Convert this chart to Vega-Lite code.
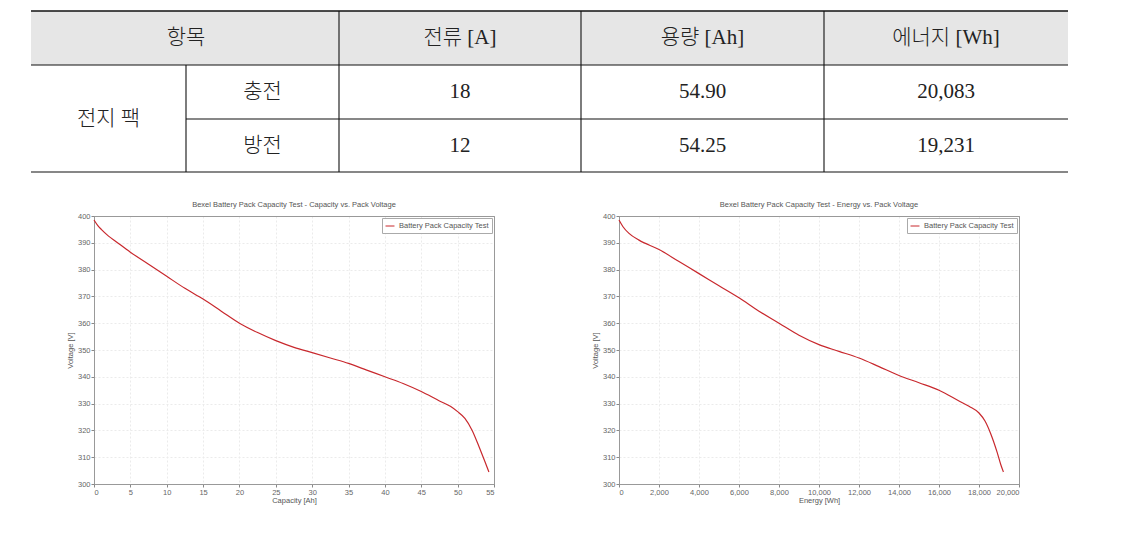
{
  "$schema": "https://vega.github.io/schema/vega-lite/v6.json",
  "padding": {"left": 30, "top": 10, "right": 0, "bottom": 0},
  "background": "white",
  "bounds": "flush",
  "spacing": 44,
  "config": {
    "font": "Liberation Sans",
    "axis": {
      "labelFont": "Liberation Sans",
      "labelFontSize": 7.5,
      "labelColor": "#666",
      "titleFont": "Liberation Sans",
      "titleFontSize": 7.5,
      "titleFontWeight": "normal",
      "titleColor": "#555",
      "tickColor": "#888",
      "tickSize": 3,
      "domainColor": "#999",
      "gridColor": {"condition": {"test": "datum.index === 0 || datum.index === 1", "value": "#999"}, "value": "#ebebeb"},
      "gridDash": {"condition": {"test": "datum.index === 0 || datum.index === 1", "value": []}, "value": [2, 2]},
      "labelPadding": 1
    },
    "title": {"font": "Liberation Sans", "fontSize": 7.5, "fontWeight": "normal", "color": "#555", "offset": 4},
    "legend": {"labelFont": "Liberation Sans", "labelFontSize": 7.5, "labelColor": "#555"}
  },
  "datasets": {
    "cells": [
      {"col": 1, "row": 0.5, "label": "항목"},
      {"col": 2.5, "row": 0.5, "label": "전류 [A]"},
      {"col": 3.5, "row": 0.5, "label": "용량 [Ah]"},
      {"col": 4.5, "row": 0.5, "label": "에너지 [Wh]"},
      {"col": 0.5, "row": 2, "label": "전지  팩"},
      {"col": 1.5, "row": 1.5, "label": "충전"},
      {"col": 1.5, "row": 2.5, "label": "방전"},
      {"col": 2.5, "row": 1.5, "label": "18"},
      {"col": 2.5, "row": 2.5, "label": "12"},
      {"col": 3.5, "row": 1.5, "label": "54.90"},
      {"col": 3.5, "row": 2.5, "label": "54.25"},
      {"col": 4.5, "row": 1.5, "label": "20,083"},
      {"col": 4.5, "row": 2.5, "label": "19,231"}
    ],
    "lines": [
      {"c1": 0, "c2": 5, "r1": 0, "r2": 0, "w": "thick"},
      {"c1": 0, "c2": 5, "r1": 1, "r2": 1, "w": "thin"},
      {"c1": 1, "c2": 5, "r1": 2, "r2": 2, "w": "thin"},
      {"c1": 0, "c2": 5, "r1": 3, "r2": 3, "w": "thin"},
      {"c1": 1, "c2": 1, "r1": 1, "r2": 3, "w": "thin"},
      {"c1": 2, "c2": 2, "r1": 0, "r2": 3, "w": "thin"},
      {"c1": 3, "c2": 3, "r1": 0, "r2": 3, "w": "thin"},
      {"c1": 4, "c2": 4, "r1": 0, "r2": 3, "w": "thin"}
    ],
    "header": [{"c1": 0, "c2": 5, "r1": 0, "r2": 1}],
    "capacity": [
      {"ah": 0, "v": 398.5, "s": "Battery Pack Capacity Test"},
      {"ah": 0.5, "v": 396.5, "s": "Battery Pack Capacity Test"},
      {"ah": 1, "v": 395, "s": "Battery Pack Capacity Test"},
      {"ah": 2, "v": 392.5, "s": "Battery Pack Capacity Test"},
      {"ah": 3, "v": 390.5, "s": "Battery Pack Capacity Test"},
      {"ah": 5, "v": 386.5, "s": "Battery Pack Capacity Test"},
      {"ah": 7.5, "v": 382, "s": "Battery Pack Capacity Test"},
      {"ah": 10, "v": 377.5, "s": "Battery Pack Capacity Test"},
      {"ah": 12.5, "v": 373, "s": "Battery Pack Capacity Test"},
      {"ah": 15, "v": 369, "s": "Battery Pack Capacity Test"},
      {"ah": 17.5, "v": 364.5, "s": "Battery Pack Capacity Test"},
      {"ah": 20, "v": 360, "s": "Battery Pack Capacity Test"},
      {"ah": 22.5, "v": 356.5, "s": "Battery Pack Capacity Test"},
      {"ah": 25, "v": 353.5, "s": "Battery Pack Capacity Test"},
      {"ah": 27.5, "v": 351, "s": "Battery Pack Capacity Test"},
      {"ah": 30, "v": 349, "s": "Battery Pack Capacity Test"},
      {"ah": 32.5, "v": 347, "s": "Battery Pack Capacity Test"},
      {"ah": 35, "v": 345, "s": "Battery Pack Capacity Test"},
      {"ah": 37.5, "v": 342.5, "s": "Battery Pack Capacity Test"},
      {"ah": 40, "v": 340, "s": "Battery Pack Capacity Test"},
      {"ah": 42.5, "v": 337.5, "s": "Battery Pack Capacity Test"},
      {"ah": 45, "v": 334.5, "s": "Battery Pack Capacity Test"},
      {"ah": 47.5, "v": 331, "s": "Battery Pack Capacity Test"},
      {"ah": 49, "v": 329, "s": "Battery Pack Capacity Test"},
      {"ah": 50, "v": 327, "s": "Battery Pack Capacity Test"},
      {"ah": 51, "v": 324.5, "s": "Battery Pack Capacity Test"},
      {"ah": 52, "v": 320, "s": "Battery Pack Capacity Test"},
      {"ah": 53, "v": 313.5, "s": "Battery Pack Capacity Test"},
      {"ah": 53.8, "v": 308, "s": "Battery Pack Capacity Test"},
      {"ah": 54.3, "v": 304.5, "s": "Battery Pack Capacity Test"}
    ],
    "energy": [
      {"wh": 0, "v": 398.5, "s": "Battery Pack Capacity Test"},
      {"wh": 200, "v": 396, "s": "Battery Pack Capacity Test"},
      {"wh": 500, "v": 393.5, "s": "Battery Pack Capacity Test"},
      {"wh": 1000, "v": 391, "s": "Battery Pack Capacity Test"},
      {"wh": 2000, "v": 387.5, "s": "Battery Pack Capacity Test"},
      {"wh": 3000, "v": 383, "s": "Battery Pack Capacity Test"},
      {"wh": 4000, "v": 378.5, "s": "Battery Pack Capacity Test"},
      {"wh": 5000, "v": 374, "s": "Battery Pack Capacity Test"},
      {"wh": 6000, "v": 369.5, "s": "Battery Pack Capacity Test"},
      {"wh": 7000, "v": 364.5, "s": "Battery Pack Capacity Test"},
      {"wh": 8000, "v": 360, "s": "Battery Pack Capacity Test"},
      {"wh": 9000, "v": 355.5, "s": "Battery Pack Capacity Test"},
      {"wh": 10000, "v": 352, "s": "Battery Pack Capacity Test"},
      {"wh": 11000, "v": 349.5, "s": "Battery Pack Capacity Test"},
      {"wh": 12000, "v": 347, "s": "Battery Pack Capacity Test"},
      {"wh": 13000, "v": 343.8, "s": "Battery Pack Capacity Test"},
      {"wh": 14000, "v": 340.5, "s": "Battery Pack Capacity Test"},
      {"wh": 15000, "v": 337.8, "s": "Battery Pack Capacity Test"},
      {"wh": 16000, "v": 335, "s": "Battery Pack Capacity Test"},
      {"wh": 17000, "v": 331, "s": "Battery Pack Capacity Test"},
      {"wh": 17500, "v": 329, "s": "Battery Pack Capacity Test"},
      {"wh": 18000, "v": 326.5, "s": "Battery Pack Capacity Test"},
      {"wh": 18300, "v": 323.5, "s": "Battery Pack Capacity Test"},
      {"wh": 18600, "v": 318.5, "s": "Battery Pack Capacity Test"},
      {"wh": 18900, "v": 312, "s": "Battery Pack Capacity Test"},
      {"wh": 19100, "v": 307, "s": "Battery Pack Capacity Test"},
      {"wh": 19220, "v": 304.5, "s": "Battery Pack Capacity Test"}
    ]
  },
  "vconcat": [
    {
      "width": 974,
      "height": 161,
      "view": {"stroke": null},
      "layer": [
        {
          "data": {"name": "header"},
          "mark": {"type": "rect", "color": "#e6e6e6"},
          "encoding": {
            "x": {"field": "c1", "type": "quantitative", "scale": {"domain": [0, 1, 2, 3, 4, 5], "range": [-63, 92, 245, 487, 730, 974]}, "axis": null},
            "x2": {"field": "c2"},
            "y": {"field": "r1", "type": "quantitative", "scale": {"domain": [0, 1, 2, 3], "range": [0, 54, 108, 161]}, "axis": null},
            "y2": {"field": "r2"}
          }
        },
        {
          "data": {"name": "lines"},
          "mark": {"type": "rule", "color": "#111"},
          "encoding": {
            "x": {"field": "c1", "type": "quantitative"},
            "x2": {"field": "c2"},
            "y": {"field": "r1", "type": "quantitative"},
            "y2": {"field": "r2"},
            "strokeWidth": {"field": "w", "type": "nominal", "scale": {"domain": ["thick", "thin"], "range": [1.6, 1.1]}, "legend": null}
          }
        },
        {
          "data": {"name": "cells"},
          "mark": {"type": "text", "font": "Liberation Serif, Noto Sans CJK KR", "fontSize": 21, "fontWeight": 300, "color": "#222", "align": "center", "baseline": "middle"},
          "encoding": {
            "x": {"field": "col", "type": "quantitative"},
            "y": {"field": "row", "type": "quantitative"},
            "text": {"field": "label", "type": "nominal"}
          }
        }
      ],
      "resolve": {"scale": {"x": "shared", "y": "shared"}}
    },
    {
      "hconcat": [
        {
          "width": 400,
          "height": 268,
          "view": {"stroke": "#999"},
          "title": {"text": "Bexel Battery Pack Capacity Test - Capacity vs. Pack Voltage"},
          "data": {"name": "capacity"},
          "mark": {"type": "line", "strokeWidth": 1.2, "interpolate": "monotone"},
          "encoding": {
            "x": {"field": "ah", "type": "quantitative", "title": "Capacity [Ah]", "scale": {"domain": [0, 55], "nice": false}, "axis": {"values": [0, 55, 5, 10, 15, 20, 25, 30, 35, 40, 45, 50], "titlePadding": 1}},
            "y": {"field": "v", "type": "quantitative", "title": "Voltage [V]", "scale": {"domain": [300, 400], "nice": false, "zero": false}, "axis": {"values": [300, 400, 310, 320, 330, 340, 350, 360, 370, 380, 390], "titlePadding": 3}},
            "color": {"field": "s", "type": "nominal", "scale": {"range": ["#c8282d"]}, "legend": {"title": null, "orient": "top-right", "offset": 2, "symbolType": "stroke", "symbolSize": 80, "symbolStrokeWidth": 1, "strokeColor": "#aaa", "fillColor": "white", "padding": 3}}
          }
        },
        {
          "width": 400,
          "height": 268,
          "view": {"stroke": "#999"},
          "title": {"text": "Bexel Battery Pack Capacity Test - Energy vs. Pack Voltage"},
          "data": {"name": "energy"},
          "mark": {"type": "line", "strokeWidth": 1.2, "interpolate": "monotone"},
          "encoding": {
            "x": {"field": "wh", "type": "quantitative", "title": "Energy [Wh]", "scale": {"domain": [0, 20000], "nice": false}, "axis": {"values": [0, 20000, 2000, 4000, 6000, 8000, 10000, 12000, 14000, 16000, 18000], "format": ",.0f", "titlePadding": 1}},
            "y": {"field": "v", "type": "quantitative", "title": "Voltage [V]", "scale": {"domain": [300, 400], "nice": false, "zero": false}, "axis": {"values": [300, 400, 310, 320, 330, 340, 350, 360, 370, 380, 390], "titlePadding": 3}},
            "color": {"field": "s", "type": "nominal", "scale": {"range": ["#c8282d"]}, "legend": {"title": null, "orient": "top-right", "offset": 2, "symbolType": "stroke", "symbolSize": 80, "symbolStrokeWidth": 1, "strokeColor": "#aaa", "fillColor": "white", "padding": 3}}
          }
        }
      ],
      "bounds": "flush",
      "spacing": 125,
      "resolve": {"scale": {"x": "independent", "y": "independent", "color": "independent"}, "legend": {"color": "independent"}}
    }
  ],
  "resolve": {"scale": {"x": "independent", "y": "independent", "color": "independent"}, "legend": {"color": "independent"}}
}
